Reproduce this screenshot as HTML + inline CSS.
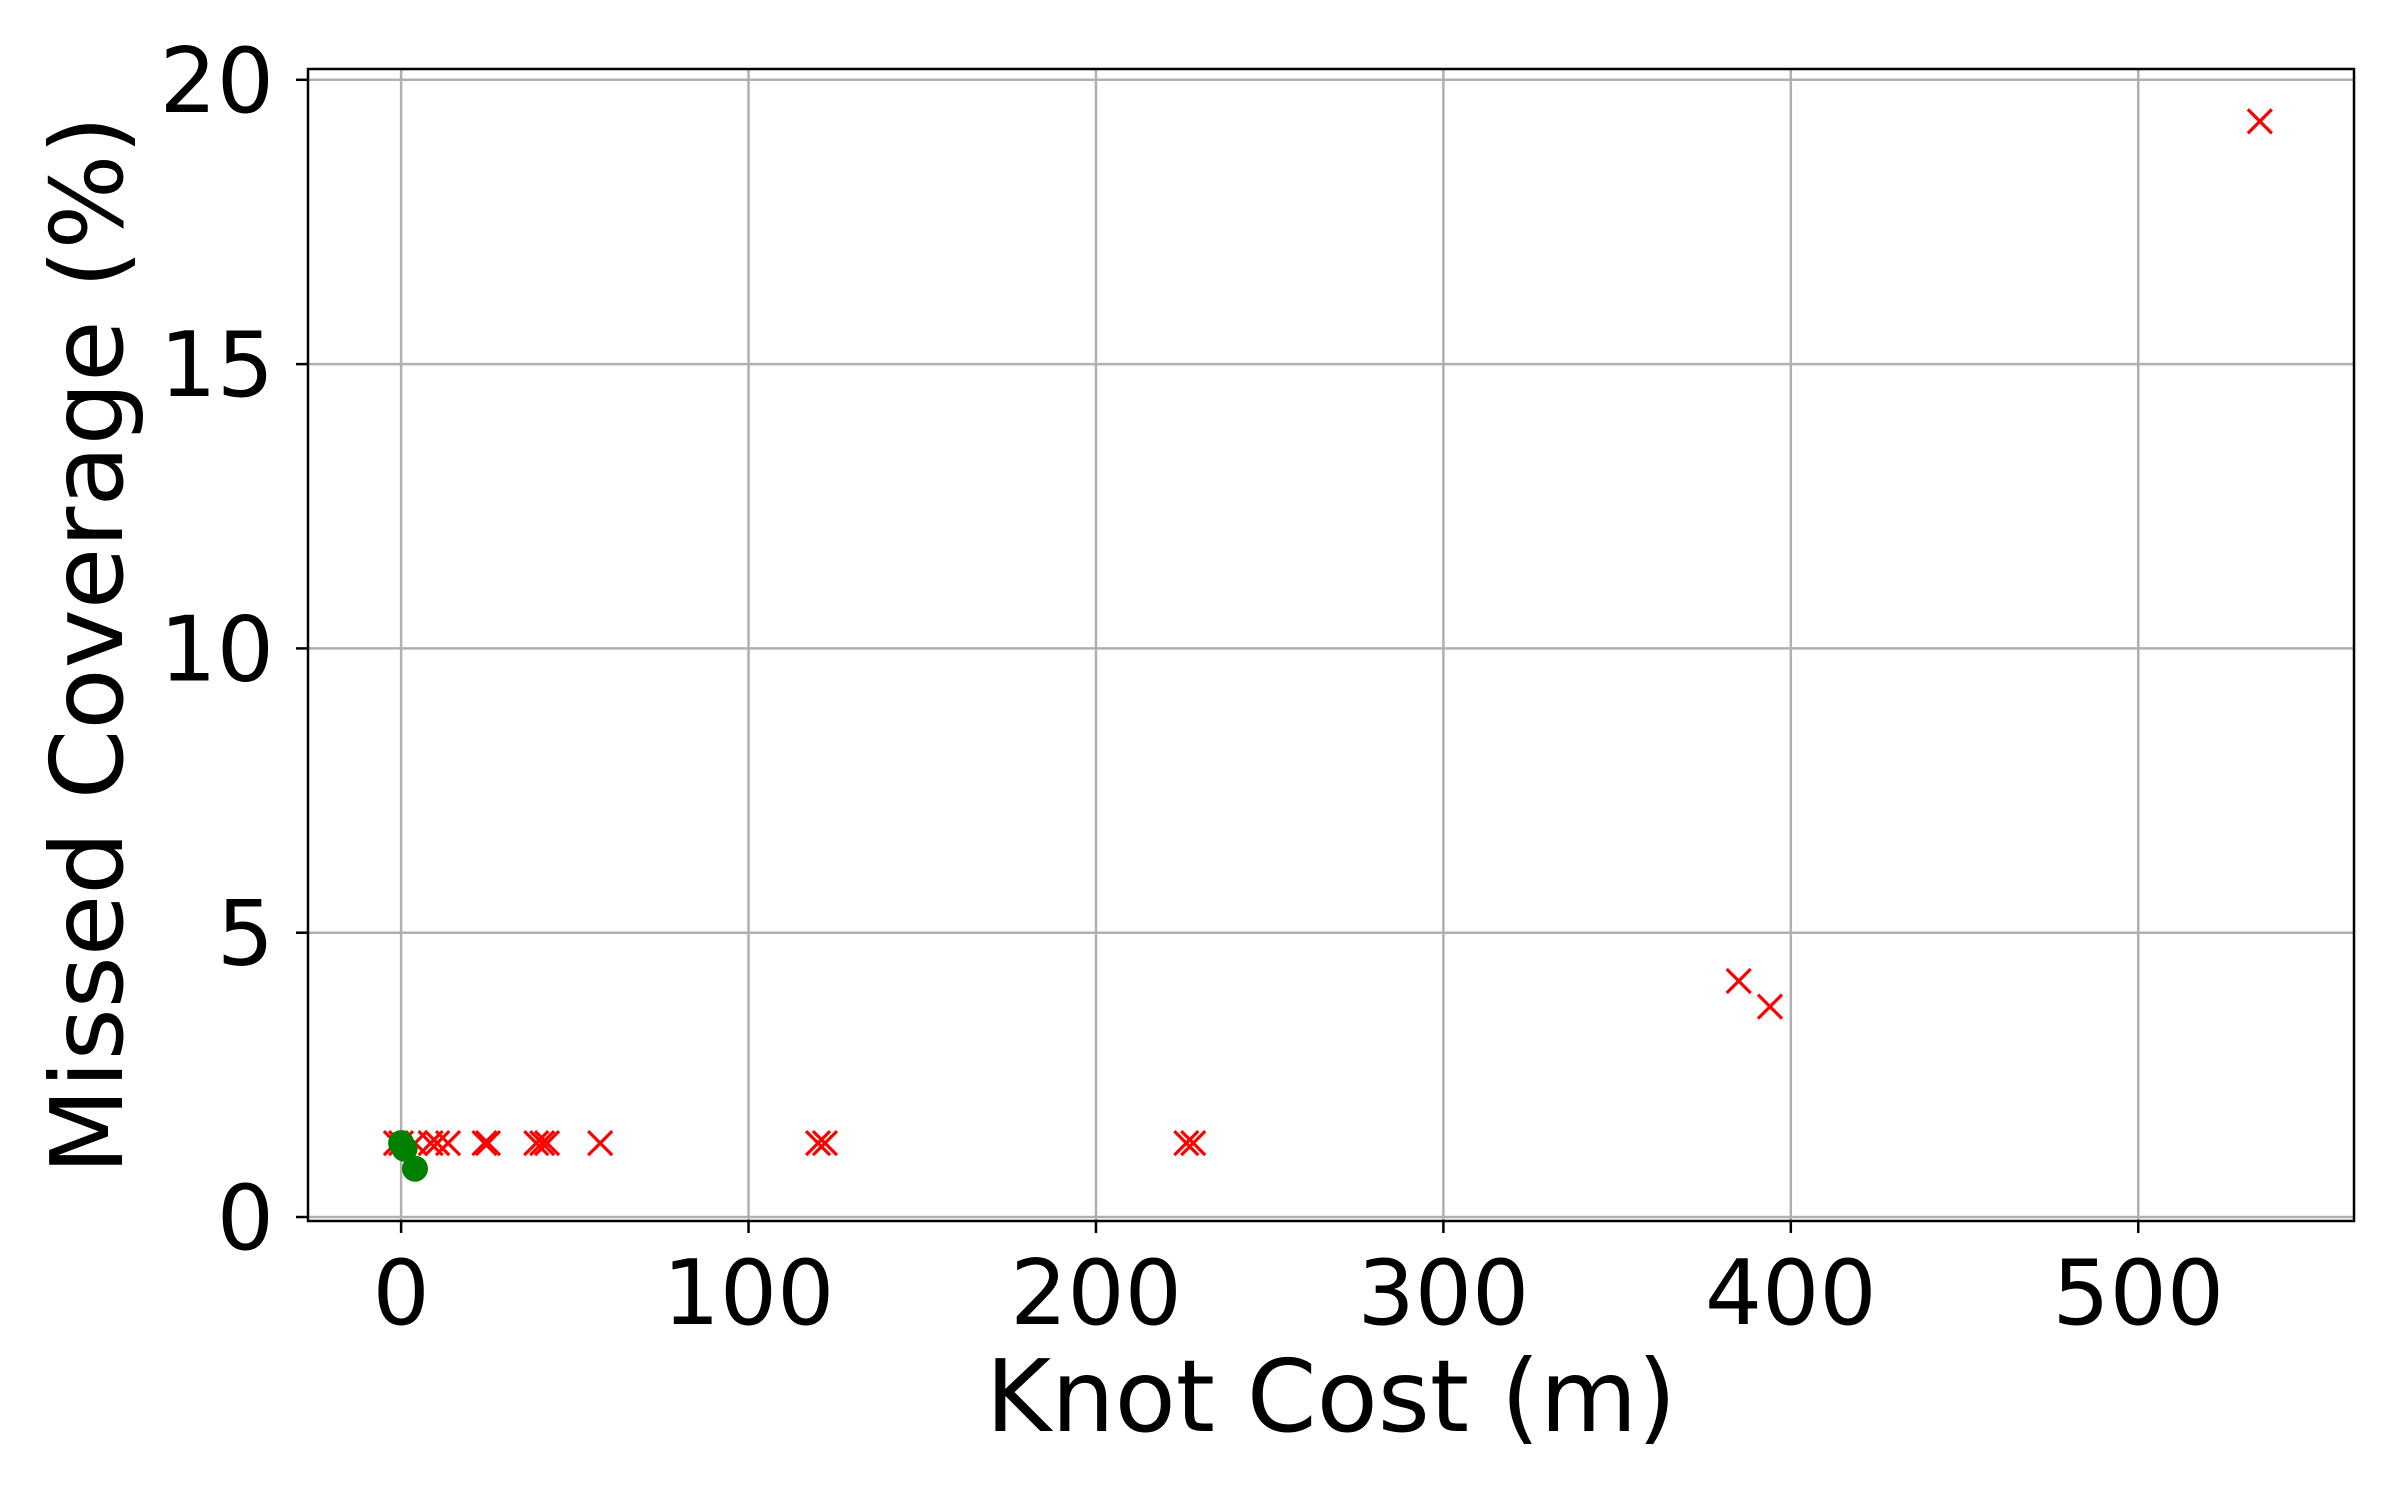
<!DOCTYPE html>
<html><head><meta charset="utf-8"><style>
html,body{margin:0;padding:0;background:#fff;}
svg{display:block;font-family:"DejaVu Sans","Liberation Sans",sans-serif;}
</style></head><body>
<svg id="chart" width="2400" height="1500" viewBox="0 0 2400 1500" xmlns="http://www.w3.org/2000/svg">
<rect width="2400" height="1500" fill="#fff"/>
<g id="grid"></g>
<g id="marks"></g>
<rect x="308" y="69" width="2046" height="1152" fill="none" stroke="#000" stroke-width="2.5"/>
<g id="ticks"></g>
<text x="1331" y="1431" font-size="100" text-anchor="middle">Knot Cost (m)</text>
<text transform="translate(122,645) rotate(-90)" font-size="100" text-anchor="middle">Missed Coverage (%)</text>
</svg>
<script>
const xTicks = [0, 100, 200, 300, 400, 500];
const yTicks = [0, 5, 10, 15, 20];
const redX = [-1.5, 0, 4, 8.5, 10.4, 13.5, 24, 25, 38.9, 40.6, 42, 57.3, 120, 122, 226, 228, 385, 394, 535];
const redY = [1.3, 1.3, 1.3, 1.3, 1.3, 1.3, 1.3, 1.3, 1.3, 1.3, 1.3, 1.3, 1.3, 1.3, 1.3, 1.3, 4.15, 3.7, 19.27];
const greenX = [0, 1, 4];
const greenY = [1.3, 1.2, 0.85];

const L=308,R=2354,T=69,B=1221;
const xMin=-26.8,xMax=562.1,yMin=-0.07,yMax=20.19;
const sx=v=>L+(v-xMin)/(xMax-xMin)*(R-L);
const sy=v=>B-(v-yMin)/(yMax-yMin)*(B-T);
const NS='http://www.w3.org/2000/svg';
function mk(tag,attrs,parent){const e=document.createElementNS(NS,tag);for(const k in attrs)e.setAttribute(k,attrs[k]);parent.appendChild(e);return e;}
const grid=document.getElementById('grid'),ticks=document.getElementById('ticks'),marks=document.getElementById('marks');
xTicks.forEach(v=>{
  const x=sx(v);
  const g=mk('line',{x1:x,x2:x,y1:T,y2:B,stroke:'#b0b0b0','stroke-width':2.5},grid);
  
  
  const t=mk('line',{x1:x,x2:x,y1:B,y2:B+12,stroke:'#000','stroke-width':2.5},ticks);
  
  
  const l=mk('text',{x:x,y:B+103,'font-size':90,'text-anchor':'middle'},ticks);
  l.textContent=v;
  
  
});
yTicks.forEach(v=>{
  const y=sy(v);
  const g=mk('line',{x1:L,x2:R,y1:y,y2:y,stroke:'#b0b0b0','stroke-width':2.5},grid);
  
  
  const t=mk('line',{x1:L-12,x2:L,y1:y,y2:y,stroke:'#000','stroke-width':2.5},ticks);
  
  
  const l=mk('text',{x:L-34,y:y+32,'font-size':90,'text-anchor':'end'},ticks);
  l.textContent=v;
  
  
});
redX.forEach((v,i)=>{
  const x=sx(v),y=sy(redY[i]),s=12;
  const p=mk('path',{d:`M${x-s},${y-s}L${x+s},${y+s}M${x-s},${y+s}L${x+s},${y-s}`,stroke:'#ff0000','stroke-width':3.2,fill:'none'},marks);
  
  
});
greenX.forEach((v,i)=>{
  const c=mk('circle',{cx:sx(v),cy:sy(greenY[i]),r:13,fill:'#008000'},marks);
  
  
});
</script>
</body></html>
